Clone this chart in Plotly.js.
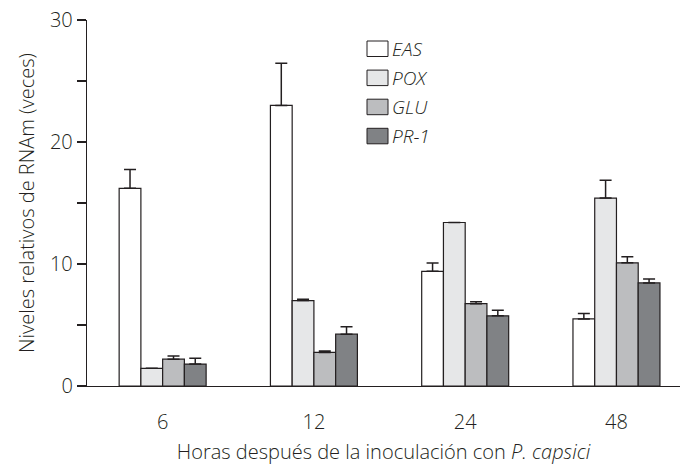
<!DOCTYPE html>
<html>
<head>
<meta charset="utf-8">
<script src="https://cdn.plot.ly/plotly-3.0.1.min.js"></script>
<style>html,body{margin:0;padding:0;background:#fff;}#chart{width:682px;height:466px;}</style>
</head>
<body>
<div id="chart"></div>
<script>
const categories = ["6", "12", "24", "48"];
const seriesNames = ["EAS", "POX", "GLU", "PR-1"];
const easValues = [16.2, 23.0, 9.4, 5.5];
const easErrors = [1.55, 3.45, 0.68, 0.44];
const poxValues = [1.45, 7.0, 13.4, 15.4];
const poxErrors = [null, 0.11, null, 1.46];
const gluValues = [2.2, 2.75, 6.75, 10.1];
const gluErrors = [0.25, 0.11, 0.16, 0.5];
const pr1Values = [1.8, 4.25, 5.75, 8.45];
const pr1Errors = [0.47, 0.6, 0.46, 0.33];
const yTickVals = [0, 5, 10, 15, 20, 25, 30];
const yTickText = ["0", "", "10", "", "20", "", "30"];
const seriesColors = ["#ffffff", "#e6e7e8", "#bcbdbf", "#808285"];

const ink = "#231f20";
const fontFam = "Open Sans, Liberation Sans, Arial, sans-serif";
const values = [easValues, poxValues, gluValues, pr1Values];
const errors = [easErrors, poxErrors, gluErrors, pr1Errors];

const traces = seriesNames.map((name, i) => ({
  type: "bar",
  name: name,
  x: categories,
  y: values[i],
  marker: {color: seriesColors[i], line: {color: ink, width: 1.2}},
  error_y: {
    type: "data", symmetric: false,
    array: errors[i],
    arrayminus: errors[i].map(() => 0),
    color: ink, thickness: 1.5, width: 6
  },
  showlegend: false
}));

// legend drawn in paper coordinates
const L = 87, W = 593, T = 20, H = 366;
const px = x => (x - L) / W;
const py = y => (T + H - y) / H;
const shapes = [];
const annotations = [];
seriesNames.forEach((name, i) => {
  const top = 41 + i * 29.1;
  shapes.push({
    type: "rect", xref: "paper", yref: "paper",
    x0: px(367), x1: px(388), y0: py(top), y1: py(top + 15.5),
    fillcolor: seriesColors[i], line: {color: ink, width: 1}
  });
  annotations.push({
    xref: "paper", yref: "paper", x: px(390), y: py(top + 7.75),
    xanchor: "left", yanchor: "middle", showarrow: false,
    text: "<i>" + name + "</i>", font: {family: fontFam, size: 19, color: ink, weight: 300}
  });
});

const layout = {
  width: 682, height: 466,
  margin: {l: L, r: 682 - L - W, t: T, b: 466 - T - H},
  paper_bgcolor: "#fff", plot_bgcolor: "#fff",
  font: {family: fontFam, size: 20, color: ink, weight: 300},
  barmode: "group", bargap: 0.425, bargroupgap: 0,
  xaxis: {
    type: "category", range: [-0.5, 3.42],
    showline: true, linecolor: ink, linewidth: 1.2,
    ticks: "", showgrid: false, zeroline: false,
    ticklabelstandoff: 18,
    tickfont: {size: 20, weight: 300},
    title: {text: "Horas después de la inoculación con <i>P. capsici</i>", font: {size: 20, weight: 300}, standoff: 10}
  },
  yaxis: {
    range: [0, 30], tickmode: "array", tickvals: yTickVals, ticktext: yTickText,
    showline: true, linecolor: ink, linewidth: 1.2,
    ticks: "outside", ticklen: 9, tickcolor: ink, tickwidth: 1.2,
    showgrid: false, zeroline: false,
    tickfont: {size: 20, weight: 300},
    title: {text: "Niveles relativos de RNAm (veces)", font: {size: 20, weight: 300}, standoff: 10}
  },
  shapes: shapes,
  annotations: annotations
};

Plotly.newPlot("chart", traces, layout, {displayModeBar: false, staticPlot: true});
</script>
</body>
</html>
